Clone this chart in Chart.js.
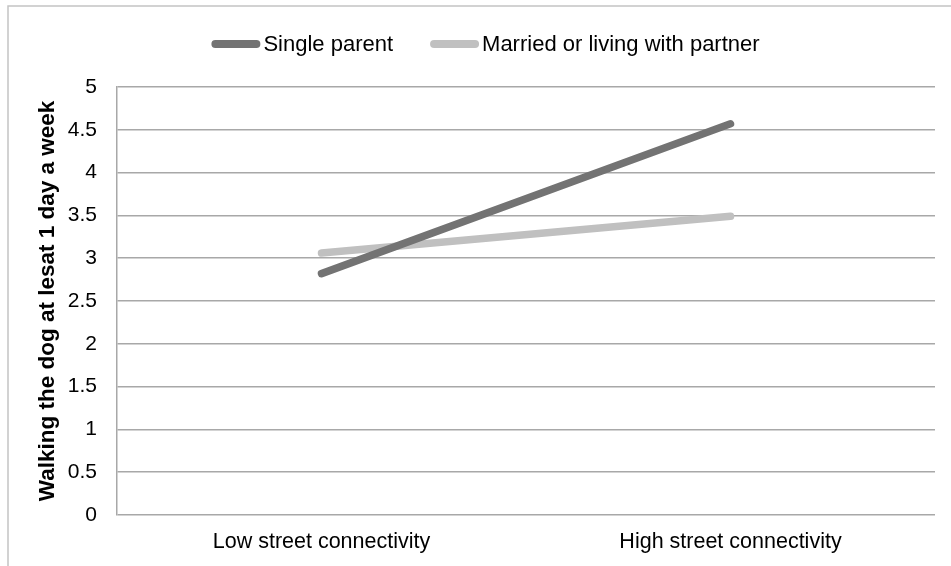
<!DOCTYPE html>
<html>
<head>
<meta charset="utf-8">
<script src="https://cdn.jsdelivr.net/npm/chart.js@4/dist/chart.umd.min.js"></script>
<style>
    html, body { margin: 0; padding: 0; background: #fff; }
    #wrap { width: 951px; height: 566px; position: relative; }
</style>
</head>
<body>
<div id="wrap"><canvas id="line-chart"></canvas></div>
<script>
const categories = ['Low street connectivity', 'High street connectivity'];
const seriesNames = ['Single parent', 'Married or living with partner'];
const singleParent = [2.82, 4.57];
const marriedPartner = [3.06, 3.49];
const seriesColors = ['#737373', '#c0c0c0'];
const yTitle = 'Walking the dog at lesat 1 day a week';

const fontFamily = '"Liberation Sans", Arial, sans-serif';

// frame round the whole chart and a hand drawn legend (line sample + text)
const framePlugin = {
    id: 'frame',
    beforeDraw(chart) {
        const ctx = chart.ctx;
        ctx.save();
        ctx.strokeStyle = '#c4c4c4';
        ctx.lineWidth = 1.5;
        ctx.beginPath();
        ctx.moveTo(8, chart.height + 2);
        ctx.lineTo(8, 6);
        ctx.lineTo(chart.width + 2, 6);
        ctx.stroke();
        ctx.restore();
    },
    afterDraw(chart) {
        const ctx = chart.ctx;
        ctx.save();
        ctx.font = '22px ' + fontFamily;
        const sampleW = 49, gapText = 3, gapItem = 37, y = 44;
        const items = chart.data.datasets.map(ds => ({
            label: ds.label, color: ds.borderColor, w: ctx.measureText(ds.label).width
        }));
        let total = 0;
        items.forEach((it, i) => { total += sampleW + gapText + it.w + (i ? gapItem : 0); });
        let x = (chart.width - total) / 2 + 10;
        items.forEach(it => {
            ctx.strokeStyle = it.color;
            ctx.lineWidth = 8;
            ctx.lineCap = 'round';
            ctx.beginPath();
            ctx.moveTo(x + 4, y);
            ctx.lineTo(x + sampleW - 4, y);
            ctx.stroke();
            ctx.fillStyle = '#000';
            ctx.textBaseline = 'middle';
            ctx.fillText(it.label, x + sampleW + gapText, y + 1);
            x += sampleW + gapText + it.w + gapItem;
        });
        ctx.restore();
    }
};

const data = {
    labels: categories,
    datasets: [
        {
            label: seriesNames[0],
            data: singleParent,
            borderColor: seriesColors[0],
            backgroundColor: seriesColors[0],
            borderWidth: 7.5,
            borderCapStyle: 'round',
            pointRadius: 0,
            tension: 0
        },
        {
            label: seriesNames[1],
            data: marriedPartner,
            borderColor: seriesColors[1],
            backgroundColor: seriesColors[1],
            borderWidth: 7.5,
            borderCapStyle: 'round',
            pointRadius: 0,
            tension: 0
        }
    ]
};

const config = {
    type: 'line',
    data: data,
    plugins: [framePlugin],
    options: {
        responsive: true,
        maintainAspectRatio: false,
        animation: false,
        layout: {
            padding: { left: 0, right: 16, top: 87, bottom: 0 }
        },
        plugins: {
            legend: { display: false },
            tooltip: { enabled: false }
        },
        scales: {
            x: {
                offset: true,
                grid: { display: false, drawTicks: false },
                border: { display: false },
                ticks: {
                    color: '#000',
                    padding: 14,
                    font: { family: fontFamily, size: 21.5 }
                },
                afterFit(scale) { scale.height = 51; }
            },
            y: {
                min: 0,
                max: 5,
                ticks: {
                    stepSize: 0.5,
                    color: '#000',
                    padding: 20,
                    font: { family: fontFamily, size: 21 },
                    callback: (v) => String(v)
                },
                grid: {
                    color: '#a8a8a8',
                    lineWidth: 1.5,
                    drawTicks: false
                },
                border: { display: true, color: '#a8a8a8', width: 1.5 },
                title: {
                    display: true,
                    text: yTitle,
                    color: '#000',
                    padding: { top: 34, bottom: 0 },
                    font: { family: fontFamily, size: 22.5, weight: 'bold' }
                },
                afterFit(scale) { scale.width = 117; }
            }
        }
    }
};

new Chart('line-chart', config);
</script>
</body>
</html>
